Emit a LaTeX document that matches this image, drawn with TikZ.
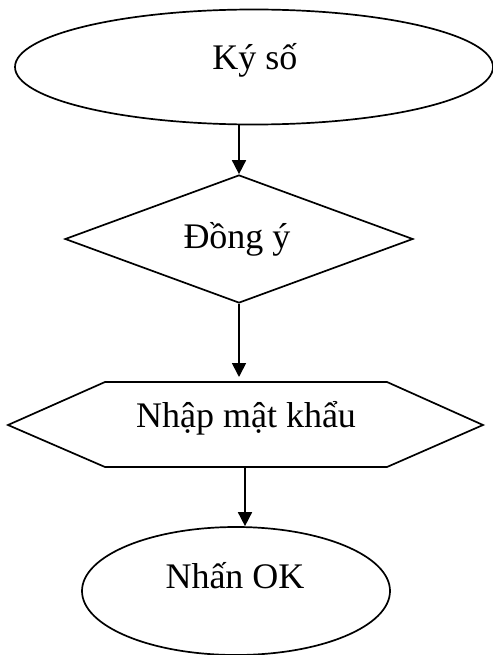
\documentclass[tikz,border=0pt]{standalone}
\usepackage{fontspec}
\setmainfont{Liberation Serif}
\usetikzlibrary{shapes.geometric,arrows.meta}
\begin{document}
\begin{tikzpicture}[x=1pt,y=-1pt,
  shapeline/.style={draw=black, line width=1.7pt},
  txt/.style={anchor=base, inner sep=0pt, font=\fontsize{36}{43}\selectfont},
  arr/.style={line width=1.7pt, -{Triangle[length=14pt,width=14pt]}}]
\useasboundingbox (0,0) rectangle (492,655);
\fill[white] (0,0) rectangle (492,655);
% shapes
\node[shapeline, ellipse, minimum width=478pt, minimum height=115pt, inner sep=0pt] (k) at (254,67) {};
\node[shapeline, diamond, minimum width=348pt, minimum height=128pt, inner sep=0pt] (d) at (239,239) {};
\coordinate (h1) at (8,425);
\coordinate (h2) at (105,382);
\coordinate (h3) at (387,382);
\coordinate (h4) at (483,425);
\coordinate (h5) at (387,467);
\coordinate (h6) at (105,467);
\draw[shapeline, line join=miter] (h1) -- (h2) -- (h3) -- (h4) -- (h5) -- (h6) -- cycle;
\coordinate (hbot) at (245,467);
\node[shapeline, ellipse, minimum width=308pt, minimum height=128pt, inner sep=0pt] (o) at (236,591) {};
% texts
\node[txt] (kt) at (255,70) {Ký số};
\node[txt] (dt) at (237,248) {Đồng ý};
\node[txt] (ht) at (246,427) {Nhập mật khẩu};
\node[txt] (ot) at (235,588) {Nhấn OK};
% connectors
\draw[arr] (d.north |- k.south) -- (d.north);
\draw[arr, shorten >=5pt] (d.south) -- (d.south |- h2);
\draw[arr] (hbot) -- (hbot |- o.north);
\end{tikzpicture}
\end{document}
